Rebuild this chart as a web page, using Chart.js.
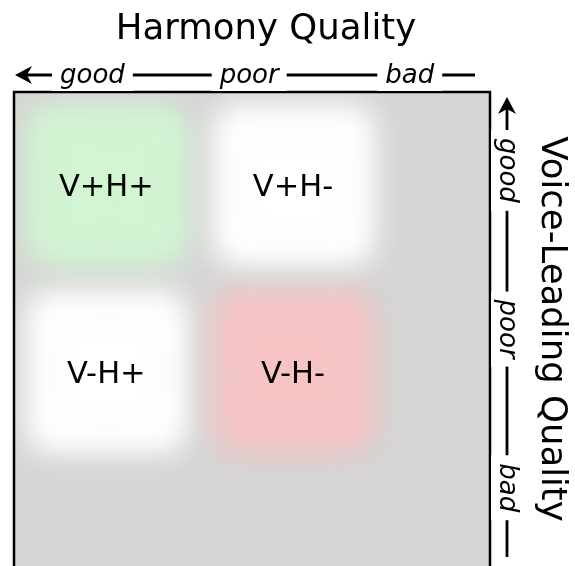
<!DOCTYPE html>
<html>
<head>
<meta charset="utf-8">
<script src="https://cdn.jsdelivr.net/npm/chart.js@4/dist/chart.umd.min.js"></script>
<style>
    html, body { margin: 0; padding: 0; background: #ffffff; overflow: hidden; }
    #wrap { width: 575px; height: 620px; }
</style>
</head>
<body>
<div id="wrap"><canvas id="quadChart" width="575" height="620"></canvas></div>
<script>
// Quadrant cells (harmony on x, voice-leading on y, 0 = top/left)
const cellLabels = ["V+H+", "V+H-", "V-H+", "V-H-"];
const harmonyPos = [0.5, 1.5, 0.5, 1.5];
const voicePos = [0.5, 0.5, 1.5, 1.5];
const cellColors = ["#d2f5d2", "#ffffff", "#ffffff", "#f7c4c4"];

// Quality scale labels along both axes
const qualityLabels = ["good", "poor", "bad"];
const harmonyTickPos = [0.42, 1.26, 2.12];
const voiceTickPos = [0.42, 1.27, 2.12];

const axisMax = 2.55;
const cellHalf = 0.43;   // half width of a cell, in axis units
const cellCorner = 0.11; // corner rounding, in axis units

const points = harmonyPos.map((x, i) => ({ x: x, y: voicePos[i] }));

// Gray plot background
const backgroundPlugin = {
    id: "plotBackground",
    beforeDatasetsDraw(chart) {
        const { ctx, chartArea } = chart;
        ctx.save();
        ctx.fillStyle = "#d5d5d5";
        ctx.fillRect(chartArea.left, chartArea.top, chartArea.width, chartArea.height);
        ctx.restore();
    }
};

// Soft, rounded edges for the cells
const blurPlugin = {
    id: "cellBlur",
    beforeDatasetsDraw(chart) {
        chart.ctx.save();
        chart.ctx.lineJoin = "round";
        chart.ctx.filter = "blur(15px)";
    },
    afterDatasetsDraw(chart) {
        chart.ctx.restore();
    }
};

// Cell captions, frame and the two quality axes
const annotationPlugin = {
    id: "annotations",
    afterDraw(chart) {
        const { ctx, chartArea, scales } = chart;
        const meta = chart.getDatasetMeta(0);

        ctx.save();
        ctx.fillStyle = "#000";
        ctx.font = "30.5px 'DejaVu Sans'";
        ctx.textAlign = "center";
        ctx.textBaseline = "alphabetic";
        meta.data.forEach((pt, i) => {
            ctx.fillText(cellLabels[i], pt.x - 1, pt.y + 11);
        });

        // frame
        ctx.strokeStyle = "#000";
        ctx.lineWidth = 2.5;
        ctx.strokeRect(chartArea.left, chartArea.top, chartArea.width, chartArea.height);

        // titles
        ctx.font = "35.5px 'DejaVu Sans'";
        ctx.fillText("Harmony Quality", 266, 39);
        ctx.save();
        ctx.translate(542, 329);
        ctx.rotate(Math.PI / 2);
        ctx.fillText("Voice-Leading Quality", 0, 0);
        ctx.restore();

        // top axis (harmony)
        const topY = 75;
        drawArrowLine(ctx, 15, topY, 475, topY);
        ctx.font = "italic 26px 'DejaVu Sans'";
        qualityLabels.forEach((label, i) => {
            const x = scales.x.getPixelForValue(harmonyTickPos[i]);
            const w = ctx.measureText(label).width;
            ctx.fillStyle = "#fff";
            ctx.fillRect(x - w / 2 - 8, topY - 16, w + 16, 32);
            ctx.fillStyle = "#000";
            ctx.fillText(label, x, topY + 7.5);
        });

        // right axis (voice-leading)
        const rightX = 507;
        drawArrowLine(ctx, rightX, 97, rightX, 557);
        voiceTickPos.forEach((pos, i) => {
            const y = scales.y.getPixelForValue(pos);
            ctx.save();
            ctx.translate(rightX, y);
            ctx.rotate(Math.PI / 2);
            const w = ctx.measureText(qualityLabels[i]).width;
            ctx.fillStyle = "#fff";
            ctx.fillRect(-w / 2 - 8, -16, w + 16, 32);
            ctx.fillStyle = "#000";
            ctx.fillText(qualityLabels[i], 0, 7.5);
            ctx.restore();
        });
        ctx.restore();
    }
};

// Line with an arrow head at its start point
function drawArrowLine(ctx, x1, y1, x2, y2) {
    const angle = Math.atan2(y2 - y1, x2 - x1);
    const headLen = 17;
    const headWidth = 9;
    ctx.save();
    ctx.translate(x1, y1);
    ctx.rotate(angle);
    const len = Math.hypot(x2 - x1, y2 - y1);
    ctx.strokeStyle = "#000";
    ctx.lineWidth = 2.8;
    ctx.lineJoin = "miter";
    ctx.beginPath();
    ctx.moveTo(headLen * 0.6, 0);
    ctx.lineTo(len, 0);
    ctx.stroke();
    ctx.fillStyle = "#000";
    ctx.beginPath();
    ctx.moveTo(0, 0);
    ctx.lineTo(headLen, -headWidth);
    ctx.lineTo(headLen * 0.7, 0);
    ctx.lineTo(headLen, headWidth);
    ctx.closePath();
    ctx.fill();
    ctx.restore();
}

function unitPx(chart, v) {
    const xs = chart.scales.x;
    if (!xs) return 0;
    return xs.getPixelForValue(v) - xs.getPixelForValue(0);
}

// inner square; the thick round-joined border supplies the rounded corners
function cellRadius(context) {
    return unitPx(context.chart, cellHalf - cellCorner) / Math.SQRT1_2;
}

function cellBorder(context) {
    return 2 * unitPx(context.chart, cellCorner);
}

const chartCanvas = document.getElementById("quadChart");
new Chart(chartCanvas, {
    type: "scatter",
    data: {
        datasets: [{
            label: "cells",
            data: points,
            backgroundColor: cellColors,
            borderColor: cellColors,
            borderWidth: cellBorder,
            pointStyle: "rect",
            pointRadius: cellRadius,
            pointHoverRadius: cellRadius
        }]
    },
    options: {
        responsive: false,
        animation: false,
        events: [],
        layout: {
            padding: { left: 14, top: 92, right: 85, bottom: 52 }
        },
        scales: {
            x: { type: "linear", min: 0, max: axisMax, display: false },
            y: { type: "linear", min: 0, max: axisMax, reverse: true, display: false }
        },
        plugins: {
            legend: { display: false },
            tooltip: { enabled: false },
            title: { display: false }
        }
    },
    plugins: [backgroundPlugin, blurPlugin, annotationPlugin]
});
</script>
</body>
</html>
